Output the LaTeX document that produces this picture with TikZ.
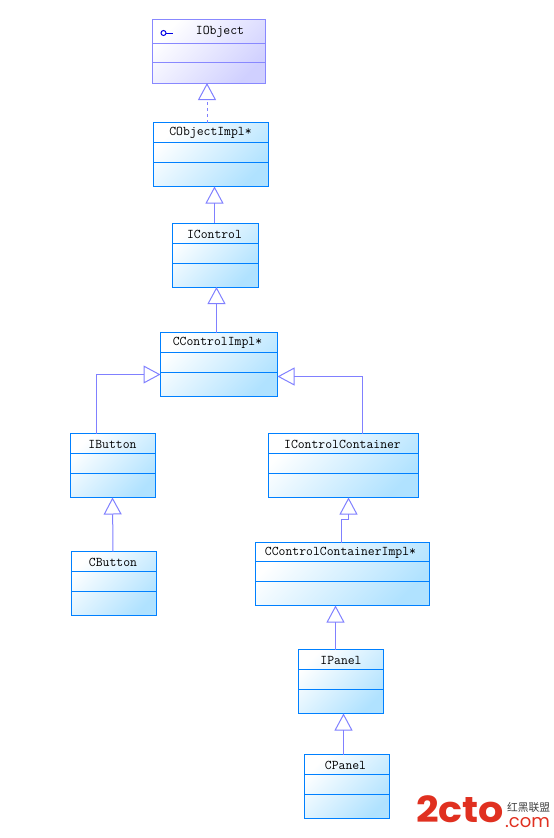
\documentclass[tikz,border=0pt]{standalone}
\usepackage{fontspec}
\setsansfont{Poppins}
\newfontfamily\cjkfont{Noto Sans CJK SC}
\usetikzlibrary{arrows.meta}
\definecolor{blueedge}{HTML}{0080FF}
\definecolor{bluefill}{HTML}{B0E2FF}
\definecolor{violetedge}{HTML}{8888FF}
\definecolor{violetfill}{HTML}{D0D0FF}
\definecolor{linkcol}{HTML}{8080FF}
\definecolor{logored}{HTML}{E03020}
\tikzset{
  classbox/.style n args={4}{rectangle,draw=blueedge,line width=1pt,inner sep=0pt,outer sep=0pt,
    minimum width=#1pt,minimum height=#2pt,
    shade,shading=axis,top color=white,bottom color=bluefill,shading angle=45,
    path picture={
      \draw[line width=1pt,draw=blueedge] ([yshift=-#3pt]path picture bounding box.north west) -- ([yshift=-#3pt]path picture bounding box.north east);
      \draw[line width=1pt,draw=blueedge] ([yshift=-#4pt]path picture bounding box.north west) -- ([yshift=-#4pt]path picture bounding box.north east);
    }},
  ifacebox/.style n args={4}{rectangle,draw=violetedge,line width=1pt,inner sep=0pt,outer sep=0pt,
    minimum width=#1pt,minimum height=#2pt,
    shade,shading=axis,top color=white,bottom color=violetfill,shading angle=45,
    path picture={
      \draw[line width=1pt,draw=violetedge] ([yshift=-#3pt]path picture bounding box.north west) -- ([yshift=-#3pt]path picture bounding box.north east);
      \draw[line width=1pt,draw=violetedge] ([yshift=-#4pt]path picture bounding box.north west) -- ([yshift=-#4pt]path picture bounding box.north east);
    }},
  title/.style={inner sep=0pt,yshift=-1pt,font=\ttfamily\fontsize{13.33}{14}\selectfont,text=black},
  inherit/.style={draw=linkcol,line width=1pt,-{Triangle[open,length=17pt,width=18pt,line width=1pt]}},
}
\begin{document}
\begin{tikzpicture}[x=1pt,y=-1pt]
\useasboundingbox (0,0) rectangle (554,838);
% classes
\node[ifacebox={113}{64}{24}{43}] (iobject) at (209,51) {};
\node[classbox={115}{64}{20}{40}] (cobject) at (211,154.5) {};
\node[classbox={86}{64}{20}{40}] (icontrol) at (215.5,255) {};
\node[classbox={117}{64}{20}{40}] (ccontrol) at (219,364.5) {};
\node[classbox={85}{64}{20}{40}] (ibutton) at (113,465.5) {};
\node[classbox={150}{64}{20}{40}] (icontainer) at (343.5,465.5) {};
\node[classbox={85}{64}{20}{40}] (cbutton) at (114,583.5) {};
\node[classbox={174}{63}{19}{39}] (ccontainer) at (342.5,574) {};
\node[classbox={85}{64}{20}{40}] (ipanel) at (341,681.5) {};
\node[classbox={85}{64}{20}{40}] (cpanel) at (347,786.5) {};
% titles
\node[title] (iobject-t) at (220,31) {IObject};
\node[title] (cobject-t) at (210.5,132) {CObjectImpl*};
\node[title] (icontrol-t) at (214.5,233) {IControl};
\node[title] (ccontrol-t) at (217.5,342) {CControlImpl*};
\node[title] (ibutton-t) at (112.5,443) {IButton};
\node[title] (icontainer-t) at (342.5,443) {IControlContainer};
\node[title] (cbutton-t) at (113,561) {CButton};
\node[title] (ccontainer-t) at (340.5,552) {CControlContainerImpl*};
\node[title] (ipanel-t) at (341,659) {IPanel};
\node[title] (cpanel-t) at (345.5,764) {CPanel};
% lollipop
\coordinate (lolli-a) at (166,33);
\coordinate (lolli-b) at (173,33);
\draw[draw=blue!90!black,line width=1pt] (lolli-a) -- (lolli-b);
\draw[draw=blue!90!black,line width=1pt,fill=white] (163.5,33) circle (2.5pt);
% connectors
\draw[inherit,dashed] ([xshift=-4pt]cobject.north) -- ([xshift=-2pt]iobject.south);
\draw[inherit] ([xshift=3.5pt]icontrol.north -| cobject.south) -- ([xshift=3.5pt]cobject.south);
\draw[inherit] ([xshift=1pt]ccontrol.north -| icontrol.south) -- ([xshift=1pt]icontrol.south);
\draw[inherit] ([xshift=-16.5pt]ibutton.north) |- ([yshift=-10pt]ccontrol.west);
\draw[inherit] ([xshift=19pt]icontainer.north) |- ([yshift=-12pt]ccontrol.east);
\draw[inherit] ([xshift=-1.5pt]ccontainer.north) |- ++(7.5,-23) -- ([xshift=5pt]icontainer.south);
\draw[inherit] ([xshift=-7pt]ipanel.north -| ccontainer.south) -- ([xshift=-7pt]ccontainer.south);
\draw[inherit] ([xshift=2.5pt]cpanel.north -| ipanel.south) -- ([xshift=2.5pt]ipanel.south);
\draw[inherit] ([xshift=-1pt]cbutton.north) -- ([xshift=-0.5pt]ibutton.south);
% watermark
\node[inner sep=0pt,anchor=base west,transform shape,xscale=1.1,text=logored,font=\sffamily\bfseries\fontsize{36}{36}\selectfont] (logo) at (416,822) {2cto};
\node[inner sep=0pt,anchor=base west,text=logored,font=\sffamily\fontsize{18}{18}\selectfont] (logo-com) at (505,827) {.com};
\node[inner sep=0pt,anchor=base west,text=black!75,font=\cjkfont\fontsize{10.75}{11}\selectfont] (logo-cn) at (507,811) {红黑联盟};
\end{tikzpicture}
\end{document}
